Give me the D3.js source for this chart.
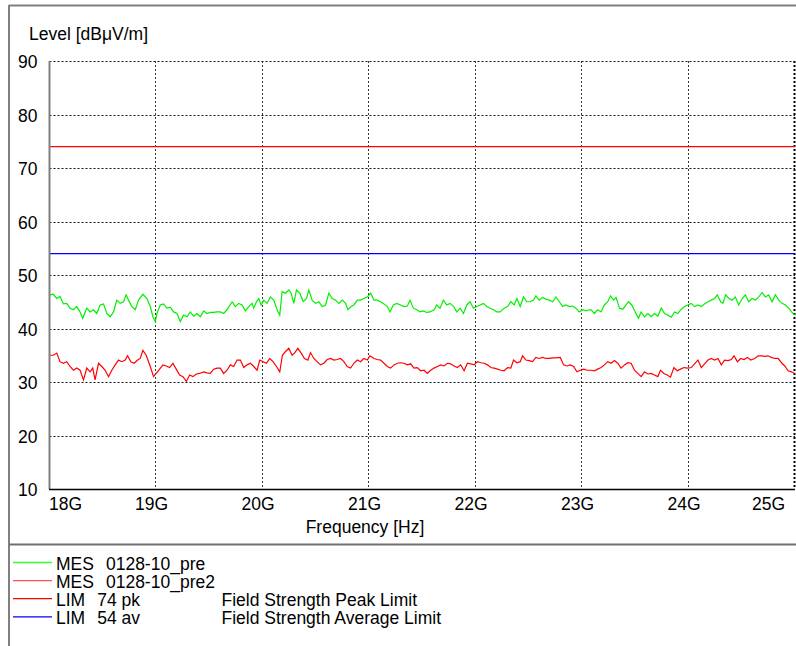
<html>
<script src="https://d3js.org/d3.v7.min.js"></script>
<body style="margin:0;background:#fff">
<script>
// ---- data ----
var yTicks = [10, 20, 30, 40, 50, 60, 70, 80, 90]
var xTicks = [18, 19, 20, 21, 22, 23, 24, 25]
var xTickLabels = ['18G', '19G', '20G', '21G', '22G', '23G', '24G', '25G']
var limitPk = 74
var limitAv = 54

// MES 0128-10_pre (green), frequency in GHz, level in dBuV/m
var preFreq = [18.005,18.036,18.068,18.099,18.130,18.162,18.193,18.225,18.256,18.287,18.312,18.350,18.381,18.413,18.444,18.475,18.507,18.538,18.570,18.601,
  18.632,18.664,18.695,18.720,18.742,18.773,18.805,18.836,18.877,18.915,18.946,18.971,18.993,19.009,19.040,19.071,19.103,19.134,19.165,19.197,
  19.228,19.259,19.291,19.322,19.354,19.385,19.416,19.448,19.479,19.510,19.542,19.573,
  19.604,19.635,19.667,19.714,19.745,19.776,19.808,19.839,19.871,19.902,19.918,19.943,19.965,19.987,20.012,20.043,20.074,20.106,20.137,20.162,
  20.184,20.216,20.247,20.269,20.294,20.319,20.350,20.382,20.413,20.435,20.466,20.498,20.529,20.560,20.592,20.623,20.655,20.686,20.717,20.749,
  20.780,20.802,20.833,20.858,20.890,20.921,20.952,20.984,21.015,21.047,21.078,21.109,21.141,21.172,21.197,21.228,21.260,
  21.297,21.328,21.360,21.385,21.416,21.448,21.479,21.510,21.542,21.573,21.611,21.636,21.667,21.698,21.730,21.761,21.792,21.824,21.855,21.887,
  21.918,21.949,21.981,22.012,22.043,22.075,22.106,22.137,22.169,22.200,22.232,22.269,22.301,22.332,22.363,22.388,22.420,22.451,22.482,22.514,
  22.545,22.567,22.598,22.630,22.661,22.693,22.724,22.755,22.787,22.818,22.849,22.881,22.912,22.943,22.975,23.006,23.037,23.069,
  23.085,23.116,23.148,23.179,23.210,23.242,23.267,23.298,23.320,23.352,23.383,23.414,23.436,23.468,23.499,23.530,23.555,23.587,23.618,23.649,
  23.681,23.712,23.744,23.775,23.806,23.838,23.869,23.900,23.932,23.963,23.994,24.026,24.057,24.089,24.120,24.151,24.183,24.214,24.245,24.270,
  24.302,24.324,24.349,24.380,24.408,24.440,24.471,24.502,24.534,24.565,24.597,24.628,24.659,24.691,24.722,24.753,24.785,24.816,24.847,24.879,
  24.910,24.941,24.967,24.998]
var preLevel = [46.3,46.4,45.6,46.0,44.6,44.7,43.8,43.5,44.1,43.1,41.9,43.8,43.1,43.5,42.8,44.4,44.6,42.8,42.2,43.1,
  45.3,44.7,45.0,46.3,45.3,44.1,43.5,45.3,46.4,45.6,44.1,42.2,41.3,42.8,44.4,44.6,43.8,44.0,43.1,42.8,
  41.3,42.5,42.2,43.1,42.3,42.8,42.2,43.3,42.8,43.0,43.0,43.1,
  43.1,42.8,43.5,45.0,44.1,44.7,44.4,43.3,44.1,44.7,43.8,45.0,45.6,44.4,45.3,44.7,45.9,45.3,43.5,42.5,
  46.9,46.6,47.2,46.6,44.7,47.2,46.6,45.0,45.6,47.2,45.3,44.7,45.0,44.1,44.4,46.6,45.6,45.3,44.7,45.3,
  44.7,43.5,44.1,44.4,45.3,45.3,45.6,45.9,46.6,45.3,45.3,45.0,44.6,44.1,43.1,44.4,44.7,
  44.4,44.1,44.2,45.3,43.8,43.5,43.1,43.3,43.0,43.1,43.5,44.4,43.8,45.3,44.4,44.7,44.2,43.1,43.8,42.8,
  44.4,45.0,43.8,44.1,44.4,44.7,44.1,43.8,43.5,43.1,43.1,43.8,44.1,45.0,44.4,45.6,44.1,45.9,45.0,45.0,
  45.3,46.1,45.3,45.8,45.5,45.3,45.0,45.9,45.0,44.1,44.4,44.1,44.2,43.8,43.1,43.5,43.3,43.5,
  43.5,42.8,43.5,43.1,44.4,45.0,46.1,45.3,45.8,43.8,43.6,44.4,45.0,44.4,43.1,41.9,43.1,42.2,42.8,42.2,
  42.8,42.3,43.8,42.8,42.5,42.1,43.1,42.8,43.6,44.1,44.4,44.7,44.1,44.4,44.1,44.6,45.0,45.3,45.6,46.3,
  45.0,44.7,46.3,45.6,45.3,45.9,44.4,45.5,46.3,45.0,45.6,45.3,45.9,46.7,45.9,46.3,45.0,46.3,45.3,44.7,
  44.4,43.8,43.1,42.5]

// MES 0128-10_pre2 (red)
var pre2Freq = [18.005,18.036,18.068,18.099,18.130,18.162,18.193,18.225,18.256,18.287,18.319,18.350,18.381,18.406,18.428,18.460,18.491,18.523,18.554,18.585,
  18.617,18.648,18.679,18.711,18.733,18.764,18.795,18.827,18.852,18.877,18.908,18.946,18.977,19.002,19.034,19.065,19.096,19.128,19.159,19.190,
  19.222,19.253,19.285,19.316,19.347,19.379,19.410,19.448,19.479,19.510,19.542,19.573,
  19.604,19.635,19.667,19.698,19.729,19.761,19.792,19.824,19.855,19.886,19.918,19.949,19.974,20.005,20.037,20.068,20.099,20.131,20.162,20.187,
  20.216,20.247,20.278,20.300,20.332,20.363,20.394,20.426,20.451,20.482,20.513,20.545,20.576,20.608,20.639,20.670,20.702,20.733,20.764,20.796,
  20.827,20.858,20.890,20.921,20.952,20.984,21.009,21.047,21.078,21.109,21.141,21.172,21.203,21.235,21.266,
  21.297,21.328,21.360,21.391,21.422,21.454,21.485,21.517,21.548,21.579,21.611,21.642,21.673,21.705,21.736,21.767,21.799,21.830,21.861,21.893,
  21.924,21.956,21.987,22.018,22.050,22.081,22.112,22.144,22.175,22.206,22.238,22.269,22.301,22.332,22.357,22.388,22.420,22.442,22.473,22.504,
  22.536,22.567,22.598,22.630,22.661,22.693,22.724,22.755,22.796,22.827,22.859,22.890,22.921,22.953,22.984,23.016,23.047,
  23.085,23.116,23.148,23.179,23.210,23.242,23.273,23.305,23.336,23.367,23.399,23.430,23.461,23.493,23.524,23.555,23.587,23.618,23.649,23.681,
  23.712,23.737,23.769,23.800,23.831,23.863,23.894,23.925,23.957,23.994,24.026,24.057,24.089,24.120,24.151,24.183,24.214,24.245,24.277,24.308,
  24.339,24.371,24.402,24.427,24.459,24.490,24.521,24.553,24.584,24.622,24.653,24.684,24.716,24.747,24.778,24.810,24.841,24.873,24.904,24.935,
  24.967,24.998]
var pre2Level = [35.0,35.0,35.4,33.8,33.5,33.8,32.9,32.2,32.6,32.2,30.4,32.6,31.9,32.6,30.4,33.5,32.9,32.2,31.0,32.2,
  33.2,34.1,33.8,34.1,34.9,33.8,33.5,34.1,34.4,35.9,35.0,32.9,31.0,31.6,32.4,33.2,33.0,32.7,33.5,32.4,
  31.3,31.0,30.1,31.3,31.0,31.5,31.6,31.9,31.7,31.6,32.4,32.6,
  32.6,31.6,32.2,33.2,32.9,34.1,34.1,32.7,33.2,33.5,32.9,32.2,34.1,33.8,33.5,34.4,33.8,32.9,31.9,35.0,
  35.7,36.3,35.0,35.4,36.3,35.4,34.4,34.1,35.5,34.4,33.8,33.2,33.5,34.2,34.4,34.1,34.2,34.4,33.8,32.9,
  32.6,33.5,34.1,33.8,34.4,34.1,34.9,34.4,34.2,34.1,33.5,32.9,32.6,33.2,33.5,
  33.6,33.5,33.2,33.4,32.6,32.7,32.1,32.2,31.6,32.2,32.6,32.9,33.2,33.0,33.5,33.4,33.0,32.7,33.2,32.1,
  33.5,33.4,33.2,33.8,33.6,33.5,33.2,32.7,32.6,32.4,32.2,32.1,32.7,32.6,34.1,33.6,33.8,34.9,34.1,34.0,
  33.8,34.6,34.4,34.6,34.4,34.4,34.5,34.5,34.6,33.2,33.0,33.2,32.9,31.9,32.2,32.4,32.2,
  32.2,32.1,32.4,32.7,33.2,33.8,33.5,34.0,33.5,32.6,33.2,33.6,33.5,32.2,31.6,31.0,31.9,31.5,31.6,31.3,
  31.0,32.2,31.6,31.3,30.9,32.7,32.1,32.4,32.7,32.6,32.7,33.4,34.1,32.7,33.4,34.1,34.4,34.1,34.4,33.2,
  34.1,34.0,34.2,34.9,33.8,34.4,34.2,34.6,34.1,34.4,34.9,34.9,34.8,34.9,34.6,34.4,34.4,33.6,33.0,32.1,
  31.9,31.6]

var legendNames = ['MES', 'MES', 'LIM', 'LIM']
var legendIds = ['0128-10_pre', '0128-10_pre2', '74 pk', '54 av']
var legendDescs = ['', '', 'Field Strength Peak Limit', 'Field Strength Average Limit']
var legendColors = ['#33ff33', '#ff5050', '#ff0000', '#0000ff']

// ---- drawing ----
var width = 796, height = 646
var svg = d3.select('body').append('svg').attr('width', width).attr('height', height)
    .style('font-family', '"Liberation Sans", Arial, sans-serif').style('font-size', '17.5px')
svg.append('rect').attr('width', width).attr('height', height).attr('fill', 'white')

var x = d3.scaleLinear().domain([18, 25]).range([49.5, 795])
var y = d3.scaleLinear().domain([10, 90]).range([489, 61])

// outer frame
svg.append('line').attr('x1', 9).attr('x2', width).attr('y1', 5.5).attr('y2', 5.5).attr('stroke', '#808080').attr('stroke-width', 2)
svg.append('line').attr('x1', 9).attr('x2', 9).attr('y1', 5).attr('y2', height).attr('stroke', '#808080').attr('stroke-width', 2)
svg.append('line').attr('x1', 9).attr('x2', width).attr('y1', 544.5).attr('y2', 544.5).attr('stroke', '#707070').attr('stroke-width', 2)

// grid
svg.append('g').selectAll('line').data(yTicks.slice(1)).enter().append('line')
    .attr('x1', x(18)).attr('x2', x(25)).attr('y1', function(d){return Math.round(y(d)) + 0.5}).attr('y2', function(d){return Math.round(y(d)) + 0.5})
    .attr('stroke', '#111').attr('stroke-dasharray', '2,2')
svg.append('g').selectAll('line').data(xTicks.slice(1)).enter().append('line')
    .attr('x1', function(d){return Math.round(x(d)) - 0.5}).attr('x2', function(d){return Math.round(x(d)) - 0.5})
    .attr('y1', y(90)).attr('y2', y(10))
    .attr('stroke', function(d){return d == 25 ? '#000' : '#333'})
    .attr('stroke-width', function(d){return d == 25 ? 2 : 1})
    .attr('stroke-dasharray', '2,2')

// limit lines
svg.append('line').attr('x1', x(18)).attr('x2', x(25)).attr('y1', y(limitPk)).attr('y2', y(limitPk)).attr('stroke', '#ff0000').attr('stroke-width', 1.2)
svg.append('line').attr('x1', x(18)).attr('x2', x(25)).attr('y1', y(limitAv)).attr('y2', y(limitAv)).attr('stroke', '#0000ff').attr('stroke-width', 1.2)

// traces
var line = d3.line().x(function(d){return x(d[0])}).y(function(d){return y(d[1])})
svg.append('path').datum(d3.zip(preFreq, preLevel)).attr('d', line)
    .attr('fill', 'none').attr('stroke', '#00f000').attr('stroke-width', 1.2)
svg.append('path').datum(d3.zip(pre2Freq, pre2Level)).attr('d', line)
    .attr('fill', 'none').attr('stroke', '#ff0000').attr('stroke-width', 1.2)

// axes borders
svg.append('line').attr('x1', 49.5).attr('x2', 49.5).attr('y1', y(90)).attr('y2', y(10)).attr('stroke', '#808080').attr('stroke-width', 2)
svg.append('line').attr('x1', 49).attr('x2', x(25)).attr('y1', 489.5).attr('y2', 489.5).attr('stroke', '#000').attr('stroke-width', 1.5)

// y labels
svg.append('g').selectAll('text').data(yTicks).enter().append('text')
    .attr('x', 37.5).attr('y', function(d){return y(d) + 7}).attr('text-anchor', 'end').attr('fill', '#000')
    .text(function(d){return d})
svg.append('text').attr('x', 29).attr('y', 39.5).text('Level [dBμV/m]')

// x labels
svg.append('g').selectAll('text').data(xTicks).enter().append('text')
    .attr('x', function(d, i){
        if (i == 0) return x(d) - 0.5
        if (i == xTicks.length - 1) return x(d) - 10
        return x(d) - 4.5
    })
    .attr('y', 510)
    .attr('text-anchor', function(d, i){return i == 0 ? 'start' : (i == xTicks.length - 1 ? 'end' : 'middle')})
    .text(function(d, i){return xTickLabels[i]})
svg.append('text').attr('x', 365).attr('y', 533).attr('text-anchor', 'middle').text('Frequency [Hz]')

// legend
var leg = svg.append('g').selectAll('g').data(legendNames).enter().append('g')
    .attr('transform', function(d, i){return 'translate(0,' + (570 + i * 18.1) + ')'})
leg.append('line').attr('x1', 13).attr('x2', 52).attr('y1', -7.5).attr('y2', -7.5)
    .attr('stroke', function(d, i){return legendColors[i]}).attr('stroke-width', 1.3)
var lt = leg.append('text').attr('x', 56).attr('y', 0).text(function(d){return d})
lt.append('tspan').attr('dx', 12).text(function(d, i){return legendIds[i]})
leg.append('text').attr('x', 221.5).attr('y', 0).text(function(d, i){return legendDescs[i]})
</script>
</body>
</html>
